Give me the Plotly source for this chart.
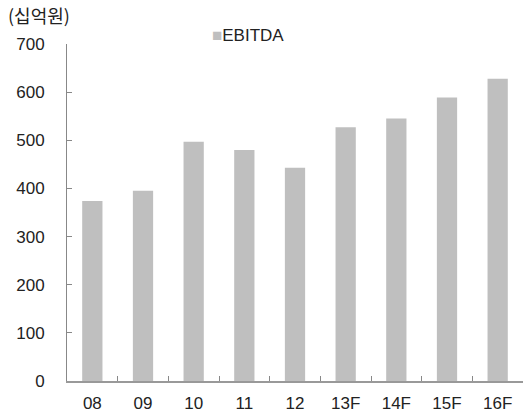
import plotly.graph_objects as go

categories = ["08", "09", "10", "11", "12", "13F", "14F", "15F", "16F"]
ebitda = [374, 395, 497, 480, 443, 527, 545, 589, 628]
y_ticks = [0, 100, 200, 300, 400, 500, 600, 700]

FONT = "Liberation Sans, Arial, Noto Sans CJK KR, sans-serif"

fig = go.Figure()
fig.add_trace(go.Bar(
    x=categories, y=ebitda, name="EBITDA",
    marker=dict(color="#bfbfbf", line=dict(width=0)),
    width=0.4, showlegend=False,
))

fig.update_layout(
    width=525, height=414,
    margin=dict(l=67, r=2, t=44, b=33),
    paper_bgcolor="white", plot_bgcolor="white",
    font=dict(family=FONT, size=17, color="#222222"),
)
fig.update_xaxes(
    type="category", showgrid=False, showline=True, linecolor="#999999", linewidth=2,
    ticks="inside", tickson="boundaries", ticklen=5, tickcolor="#888888",
    tickfont=dict(size=17, color="#222222"), ticklabelstandoff=6,
)
fig.update_yaxes(
    range=[0, 700], tickvals=y_ticks, showgrid=False, zeroline=False,
    showline=True, linecolor="#888888", linewidth=1,
    ticks="inside", ticklen=5, tickcolor="#888888",
    tickfont=dict(size=17, color="#222222"), ticklabelstandoff=18,
)
fig.add_annotation(
    xref="paper", yref="paper", x=-61/456, y=1 + 29/337, xanchor="left", yanchor="middle",
    text="(십억원)", showarrow=False, font=dict(size=18, family="Noto Sans CJK KR"),
)
fig.add_annotation(
    xref="paper", yref="paper", x=(210 - 67)/456, y=1 + 9/337, xanchor="left", yanchor="middle",
    text="<span style='color:#bfbfbf'>■</span>EBITDA", showarrow=False,
    font=dict(size=17, family=FONT),
)

fig.write_html("out.html")
